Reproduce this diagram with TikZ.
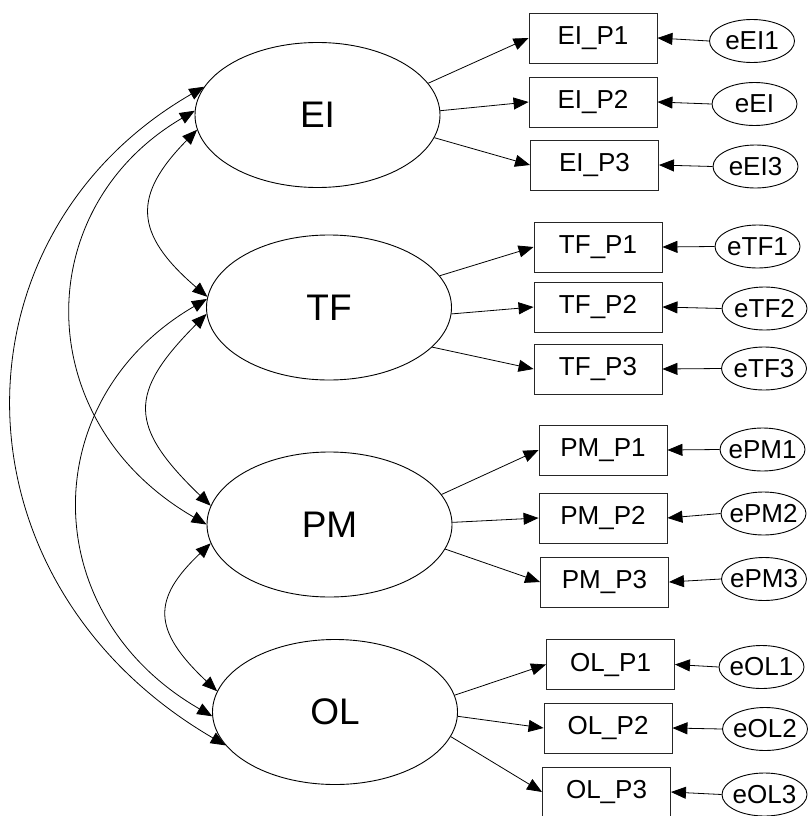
\documentclass[tikz,border=0pt]{standalone}
\usepackage{fontspec}
\setmainfont{Liberation Sans}
\usetikzlibrary{arrows.meta,shapes.geometric}
\begin{document}
\begin{tikzpicture}[x=1pt,y=-1pt,
  lat/.style={ellipse,draw,line width=0.9pt,minimum width=245pt,minimum height=145pt,inner sep=0pt,font=\fontsize{37pt}{40pt}\selectfont},
  ind/.style={rectangle,draw=black!85,line width=0.9pt,minimum width=128pt,minimum height=50pt,inner sep=0pt,font=\fontsize{26pt}{28pt}\selectfont},
  err/.style={ellipse,draw,line width=0.9pt,minimum width=85pt,minimum height=43pt,inner sep=0pt,font=\fontsize{26pt}{28pt}\selectfont},
  tipa/.tip={Triangle[length=15pt,width=12pt]},
  arr/.style={-tipa,line width=0.8pt},
  cov/.style={tipa-tipa,line width=0.8pt}]
\useasboundingbox (0,0) rectangle (807,816);
% latent variables
\node[lat] (EI) at (317.5,115) {EI};
\node[lat] (TF) at (329,307.5) {TF};
\node[lat] (PM) at (329.5,524.5) {PM};
\node[lat] (OL) at (335,712) {OL};
% indicators
\node[ind] (EIP1) at (593,38) {EI\_P1};
\node[ind] (EIP2) at (593,102) {EI\_P2};
\node[ind] (EIP3) at (594.5,165) {EI\_P3};
\node[ind] (TFP1) at (598,247) {TF\_P1};
\node[ind] (TFP2) at (598,307) {TF\_P2};
\node[ind] (TFP3) at (598,369) {TF\_P3};
\node[ind] (PMP1) at (603,450) {PM\_P1};
\node[ind] (PMP2) at (603,518) {PM\_P2};
\node[ind] (PMP3) at (604.5,582) {PM\_P3};
\node[ind] (OLP1) at (610.5,664.5) {OL\_P1};
\node[ind] (OLP2) at (608,728) {OL\_P2};
\node[ind] (OLP3) at (606.5,792) {OL\_P3};
% errors
\node[err] (eEI1) at (752,41) {\makebox[0pt]{eEI1}};
\node[err] (eEI2) at (754.5,104) {\makebox[0pt]{eEI}};
\node[err] (eEI3) at (755.5,166.5) {\makebox[0pt]{eEI3}};
\node[err] (eTF1) at (757.5,246.5) {\makebox[0pt]{eTF1}};
\node[err] (eTF2) at (764.5,308.5) {\makebox[0pt]{eTF2}};
\node[err] (eTF3) at (764,368.5) {\makebox[0pt]{eTF3}};
\node[err] (ePM1) at (762.5,449.5) {\makebox[0pt]{ePM1}};
\node[err] (ePM2) at (763.5,513.5) {\makebox[0pt]{ePM2}};
\node[err] (ePM3) at (764,579) {\makebox[0pt]{ePM3}};
\node[err] (eOL1) at (761.5,667) {\makebox[0pt]{eOL1}};
\node[err] (eOL2) at (765,729) {\makebox[0pt]{eOL2}};
\node[err] (eOL3) at (764.5,794.5) {\makebox[0pt]{eOL3}};
% loadings
\draw[arr] (EI.16) -- (EIP1.west);
\draw[arr] (EI.2) -- (EIP2.west);
\draw[arr] (EI.-11.5) -- (EIP3.west);
\draw[arr] (TF.16) -- (TFP1.west);
\draw[arr] (TF.-3) -- (TFP2.west);
\draw[arr] (TF.-21) -- (TFP3.west);
\draw[arr] (PM.15) -- (PMP1.west);
\draw[arr] (PM.1.6) -- (PMP2.west);
\draw[arr] (PM.-12.5) -- (PMP3.west);
\draw[arr] (OL.8.5) -- (OLP1.west);
\draw[arr] (OL.-2) -- (OLP2.west);
\draw[arr] (OL.-12.6) -- (OLP3.west);
% error arrows
\foreach \e/\b in {eEI1/EIP1,eEI2/EIP2,eEI3/EIP3,eTF1/TFP1,eTF2/TFP2,eTF3/TFP3,ePM1/PMP1,ePM2/PMP2,ePM3/PMP3,eOL1/OLP1,eOL2/OLP2,eOL3/OLP3}
  \draw[arr] (\e.west) -- (\b.east);
% covariances
\draw[cov] (EI.187.6) .. controls (133,195) and (133,233) .. (TF.175);
\draw[cov] (EI.178.6) .. controls (29,208) and (29,422) .. (PM.180);
\draw[cov] (EI.166.3) .. controls (-54.5,236) and (-54.5,582) .. (OL.197);
\draw[cov] (TF.183) .. controls (128,393) and (128,426) .. (PM.171);
\draw[cov] (TF.176) .. controls (35,399) and (35,614) .. (OL.182);
\draw[cov] (PM.189) .. controls (152,599) and (152,630) .. (OL.170.6);
\end{tikzpicture}
\end{document}
